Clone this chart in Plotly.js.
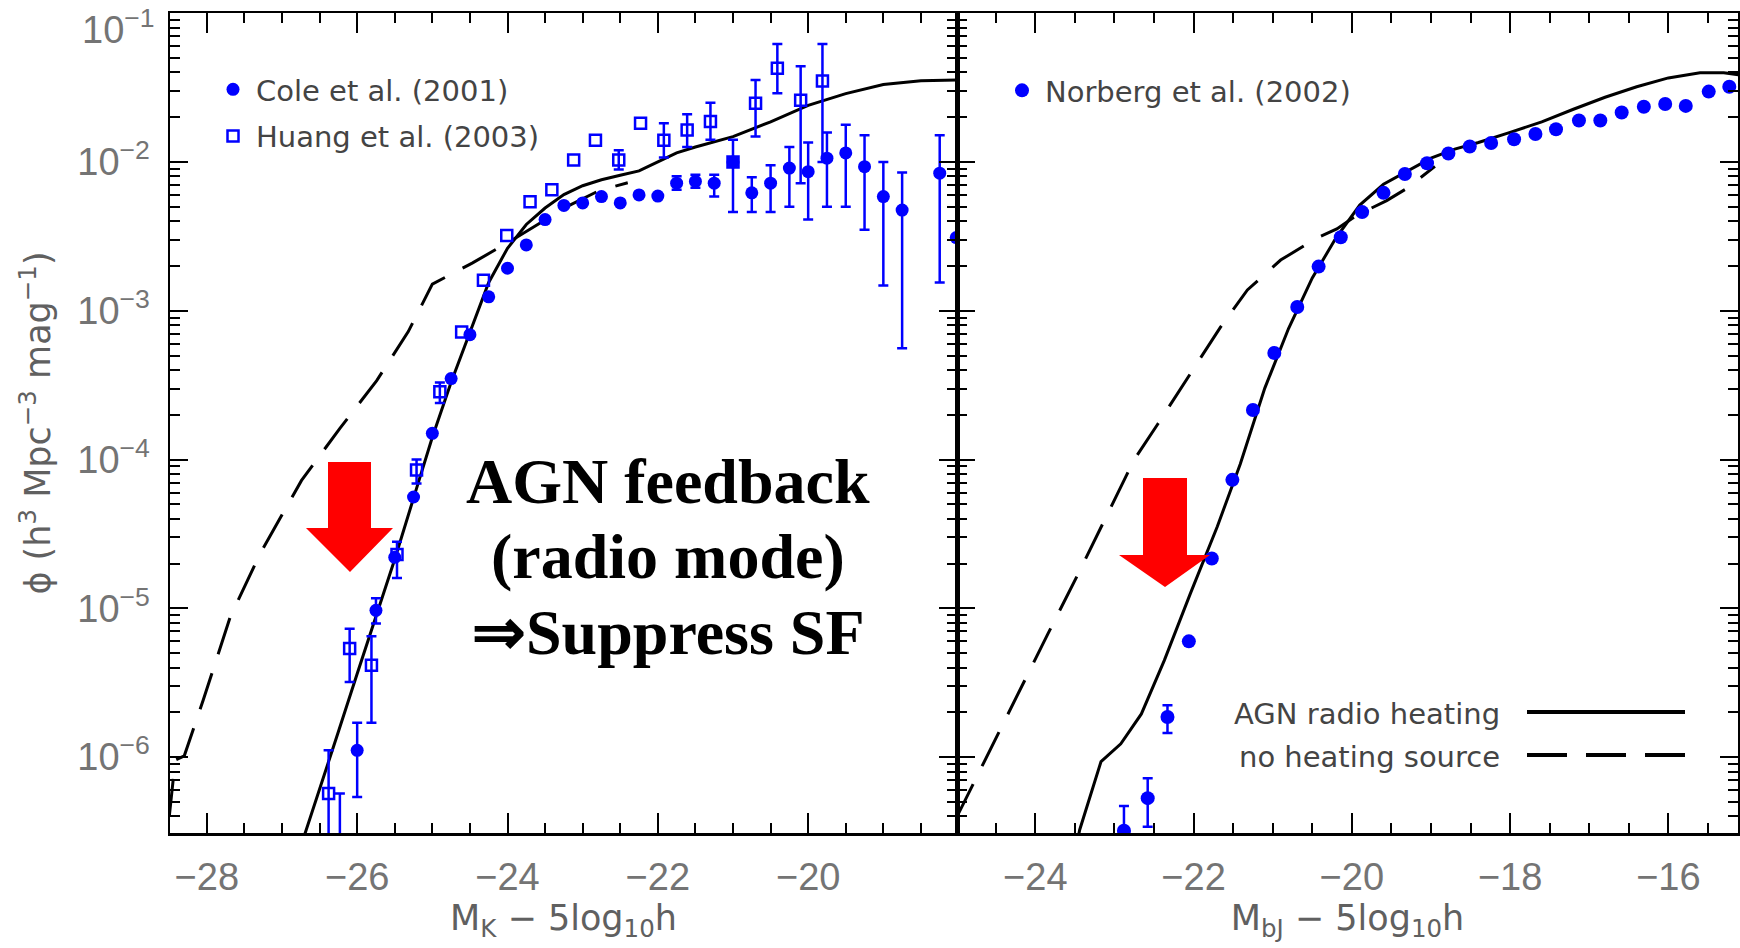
<!DOCTYPE html>
<html>
<head>
<meta charset="utf-8">
<script src="https://cdn.plot.ly/plotly-3.0.1.min.js"></script>
<style>
html,body{margin:0;padding:0;background:#fff;overflow:hidden;}
#chart{width:1740px;height:948px;}
</style>
</head>
<body>
<div id="chart"></div>
<script>
// ---------------- DATA ----------------
// Left panel: K-band luminosity function
const coleMag = [-26.0,-25.75,-25.5,-25.25,-25.0,-24.75,-24.5,-24.25,-24.0,-23.75,-23.5,-23.25,-23.0,-22.75,-22.5,-22.25,-22.0,-21.75,-21.5,-21.25,-21.0,-20.75,-20.5,-20.25,-20.0,-19.75,-19.5,-19.25,-19.0,-18.75,-18.25,-18.03];
const colePhi = [1.11e-6,9.7e-6,2.2e-5,5.6e-5,1.5e-4,3.5e-4,6.9e-4,1.24e-3,1.93e-3,2.77e-3,4.1e-3,5.1e-3,5.3e-3,5.85e-3,5.3e-3,6.0e-3,5.9e-3,7.2e-3,7.4e-3,7.2e-3,1.0e-2,6.2e-3,7.2e-3,9.1e-3,8.6e-3,1.06e-2,1.15e-2,9.3e-3,5.85e-3,4.75e-3,8.4e-3,3.1e-3];
const coleLo  = [5.4e-7,7.9e-6,null,null,null,null,null,null,null,null,null,null,null,null,null,null,null,6.5e-3,6.7e-3,5.85e-3,4.6e-3,4.6e-3,4.6e-3,5.0e-3,4.1e-3,5.0e-3,5.0e-3,3.5e-3,1.48e-3,5.6e-4,1.55e-3,null];
const coleHi  = [1.7e-6,1.17e-5,null,null,null,null,null,null,null,null,null,null,null,null,null,null,null,8.0e-3,8.2e-3,8.2e-3,1.41e-2,7.9e-3,9.5e-3,1.26e-2,1.35e-2,1.58e-2,1.78e-2,1.51e-2,1.0e-2,8.5e-3,1.51e-2,null];

const huangMag = [-26.38,-26.23,-26.1,-25.81,-25.47,-25.21,-24.9,-24.61,-24.32,-24.01,-23.70,-23.41,-23.12,-22.83,-22.52,-22.23,-21.92,-21.61,-21.30,-21.0,-20.70,-20.41,-20.10,-19.81];
const huangPhi = [5.7e-7,2.0e-7,5.37e-6,4.14e-6,2.3e-5,8.5e-5,2.85e-4,7.2e-4,1.6e-3,3.2e-3,5.4e-3,6.5e-3,1.03e-2,1.4e-2,1.03e-2,1.82e-2,1.4e-2,1.64e-2,1.87e-2,1.0e-2,2.48e-2,4.27e-2,2.6e-2,3.5e-2];
const huangLo  = [1.0e-7,1.0e-7,3.2e-6,1.7e-6,1.6e-5,6.9e-5,2.4e-4,null,null,null,null,null,null,null,8.9e-3,null,1.07e-2,1.26e-2,1.41e-2,null,1.48e-2,2.9e-2,7.2e-3,1.0e-2];
const huangHi  = [1.11e-6,5.7e-7,7.3e-6,6.5e-6,2.8e-5,1.0e-4,3.3e-4,null,null,null,null,null,null,null,1.2e-2,null,1.82e-2,2.09e-2,2.5e-2,null,3.55e-2,6.2e-2,4.4e-2,6.2e-2];

const kHeatMag = [-26.75,-26.5,-26.25,-26.0,-25.75,-25.5,-25.25,-25.0,-24.75,-24.5,-24.25,-24.0,-23.75,-23.5,-23.25,-23.0,-22.75,-22.5,-22.25,-22.0,-21.75,-21.5,-21.0,-20.5,-20.0,-19.5,-19.0,-18.5,-18.0];
const kHeatPhi = [2.51e-7,6.03e-7,1.48e-6,3.63e-6,8.71e-6,2.14e-5,5.5e-5,1.41e-4,3.31e-4,7.24e-4,1.55e-3,2.63e-3,3.8e-3,4.9e-3,6.03e-3,6.92e-3,7.59e-3,8.13e-3,8.71e-3,1.0e-2,1.15e-2,1.26e-2,1.48e-2,1.86e-2,2.4e-2,2.88e-2,3.31e-2,3.51e-2,3.55e-2];

const kNoHeatMag = [-28.5,-28.42,-28.3,-28.05,-27.69,-27.29,-26.74,-26.23,-25.74,-25.32,-25.0,-24.47,-23.92,-23.57,-23.21,-22.77,-22.4];
const kNoHeatPhi = [3.98e-7,9.55e-7,1.02e-6,2.4e-6,8.71e-6,2.34e-5,7.24e-5,1.62e-4,3.39e-4,7.24e-4,1.51e-3,2.09e-3,3.02e-3,3.89e-3,5.01e-3,6.46e-3,7.24e-3];

// Right panel: bJ-band luminosity function
const norbergMag = [-22.88,-22.58,-22.33,-22.06,-21.77,-21.51,-21.25,-20.98,-20.69,-20.42,-20.14,-19.87,-19.60,-19.33,-19.05,-18.78,-18.51,-18.24,-17.95,-17.68,-17.42,-17.13,-16.86,-16.59,-16.31,-16.04,-15.78,-15.49,-15.23];
const norbergPhi = [3.2e-7,5.3e-7,1.86e-6,6.0e-6,2.16e-5,7.3e-5,2.15e-4,5.2e-4,1.06e-3,1.98e-3,3.12e-3,4.6e-3,6.2e-3,8.3e-3,9.8e-3,1.14e-2,1.27e-2,1.34e-2,1.42e-2,1.54e-2,1.66e-2,1.9e-2,1.9e-2,2.15e-2,2.35e-2,2.45e-2,2.38e-2,2.97e-2,3.2e-2];
const norbergLo  = [1.5e-7,3.4e-7,1.45e-6,null,null,null,null,null,null,null,null,null,null,null,null,null,null,null,null,null,null,null,null,null,null,null,null,null,null];
const norbergHi  = [4.7e-7,7.2e-7,2.23e-6,null,null,null,null,null,null,null,null,null,null,null,null,null,null,null,null,null,null,null,null,null,null,null,null,null,null];

const bHeatMag = [-23.5,-23.44,-23.17,-22.92,-22.66,-22.37,-22.04,-21.70,-21.41,-21.1,-20.8,-20.5,-20.2,-19.9,-19.6,-19.3,-19.0,-18.7,-18.4,-18.0,-17.6,-17.2,-16.8,-16.4,-16.0,-15.6,-15.3,-15.1];
const bHeatPhi = [2.24e-7,3.24e-7,9.33e-7,1.23e-6,1.95e-6,4.47e-6,1.26e-5,3.55e-5,9.33e-5,3.02e-4,7.59e-4,1.66e-3,3.09e-3,5.13e-3,7.08e-3,8.71e-3,1.06e-2,1.22e-2,1.35e-2,1.58e-2,1.86e-2,2.26e-2,2.72e-2,3.2e-2,3.67e-2,3.98e-2,3.98e-2,3.85e-2];

const bNoHeatMag = [-25.0,-24.6,-24.22,-23.84,-23.46,-23.08,-22.75,-22.45,-22.04,-21.66,-21.32,-20.9,-20.44,-20.19,-19.94,-19.56,-19.31,-18.95];
const bNoHeatPhi = [3.89e-7,1.05e-6,2.69e-6,6.76e-6,1.7e-5,4.37e-5,1.0e-4,1.74e-4,3.8e-4,7.76e-4,1.38e-3,2.19e-3,3.09e-3,3.55e-3,4.37e-3,5.5e-3,6.61e-3,9.33e-3];

// Tick labels
const xTicksLeft  = [-28,-26,-24,-22,-20];
const xTicksRight = [-24,-22,-20,-18,-16];
const yTickVals   = [1e-6,1e-5,1e-4,1e-3,1e-2];
const yTickText   = ['10<sup>−6</sup>','10<sup>−5</sup>','10<sup>−4</sup>','10<sup>−3</sup>','10<sup>−2</sup>'];
const yTopLabel   = '10<sup>−1</sup>';

// ---------------- helpers ----------------
function errPlus(phi, hi){ return phi.map((v,i)=> hi[i]==null ? NaN : hi[i]-v); }
function errMinus(phi, lo){ return phi.map((v,i)=> lo[i]==null ? NaN : v-lo[i]); }

const BLUE = 'rgb(0,0,255)';
const errStyle = {type:'data', symmetric:false, color:BLUE, thickness:2.5, width:5};

const traces = [
  {x:kNoHeatMag, y:kNoHeatPhi, xaxis:'x', yaxis:'y', mode:'lines', showlegend:false,
   line:{color:'#000', width:3, dash:'38px,20px'}},
  {x:kHeatMag, y:kHeatPhi, xaxis:'x', yaxis:'y', mode:'lines', showlegend:false,
   line:{color:'#000', width:3}},
  {x:coleMag, y:colePhi, xaxis:'x', yaxis:'y', mode:'markers', name:'Cole et al. (2001)',
   legend:'legend', legendgroup:'cole',
   marker:{symbol:'circle', size:13, color:BLUE},
   error_y:Object.assign({array:errPlus(colePhi,coleHi), arrayminus:errMinus(colePhi,coleLo)}, errStyle)},
  {x:huangMag, y:huangPhi, xaxis:'x', yaxis:'y', mode:'markers', name:'Huang et al. (2003)',
   legend:'legend', legendgroup:'huang',
   marker:{symbol:'square-open', size:11, color:BLUE, line:{width:2.5, color:BLUE}},
   error_y:Object.assign({array:errPlus(huangPhi,huangHi), arrayminus:errMinus(huangPhi,huangLo)}, errStyle)},
  {x:bNoHeatMag, y:bNoHeatPhi, xaxis:'x2', yaxis:'y2', mode:'lines', showlegend:false,
   line:{color:'#000', width:3, dash:'38px,20px'}},
  {x:bHeatMag, y:bHeatPhi, xaxis:'x2', yaxis:'y2', mode:'lines', showlegend:false,
   line:{color:'#000', width:3}},
  {x:norbergMag, y:norbergPhi, xaxis:'x2', yaxis:'y2', mode:'markers', name:'Norberg et al. (2002)',
   legend:'legend2',
   marker:{symbol:'circle', size:14, color:BLUE},
   error_y:Object.assign({array:errPlus(norbergPhi,norbergHi), arrayminus:errMinus(norbergPhi,norbergLo)}, errStyle)}
];

// ---------------- layout ----------------
const W = 1740, H = 948;
const M = {l:170, r:2, t:13, b:115};
const PW = W - M.l - M.r, PH = H - M.t - M.b;
const px = X => (X - M.l) / PW;       // pixel -> paper (x)
const py = Y => (H - M.b - Y) / PH;   // pixel -> paper (y)
const split = px(957);

const tickFont = {family:'Liberation Sans, Arial, sans-serif', size:38, color:'#747474'};
const titleFont = {family:'DejaVu Sans, sans-serif', size:35, color:'#606060'};
const legFont = {family:'DejaVu Sans, sans-serif', size:29, color:'#444'};

const yMinor = [];
for (let d = -7; d <= -1; d++) for (let k = 2; k <= 9; k++) yMinor.push(k * Math.pow(10, d));

function xAxis(dom, range, ticks, title, anchor){
  return {domain:dom, range:range, anchor:anchor, tickmode:'array', tickvals:ticks,
    ticktext:ticks.map(v=>'−'+Math.abs(v)),
    ticks:'inside', ticklen:20, tickwidth:2, tickcolor:'#000',
    showline:true, linecolor:'#000', linewidth:2.5, mirror:'ticks',
    showgrid:false, zeroline:false, tickfont:tickFont, ticklabelstandoff:9,
    minor:{tickmode:'linear', tick0:-30, dtick:0.5, ticks:'inside', ticklen:10, tickwidth:2, tickcolor:'#000', showgrid:false},
    title:{text:title, font:titleFont, standoff:6}};
}
function yAxis(anchor, labels){
  return {type:'log', range:[-6.51,-0.999], anchor:anchor, domain:[0,1],
    tickmode:'array', tickvals:yTickVals, ticktext:yTickText, showticklabels:labels,
    ticks:'inside', ticklen:18, tickwidth:2, tickcolor:'#000',
    showline:true, linecolor:'#000', linewidth:2.5, mirror:'ticks',
    showgrid:false, zeroline:false, tickfont:tickFont, ticklabelstandoff:10,
    minor:{tickmode:'array', tickvals:yMinor, ticks:'inside', ticklen:10, tickwidth:2, tickcolor:'#000', showgrid:false}};
}

const yL = yAxis('x', true);
yL.title = {text:'ɸ (h<sup>3</sup> Mpc<sup>−3</sup> mag<sup>−1</sup>)', font:titleFont, standoff:16};
const yR = yAxis('x2', false);

function arrowPath(xs, ys){
  return 'M' + xs.map((x,i)=> px(x).toFixed(5)+','+py(ys[i]).toFixed(5)).join(' L') + ' Z';
}
const RED = '#ff0000';
const shapes = [
  {type:'path', xref:'paper', yref:'paper', fillcolor:RED, line:{width:0},
   path:arrowPath([328,371,371,393,350,306,328],[462,462,528,528,572,528,528])},
  {type:'path', xref:'paper', yref:'paper', fillcolor:RED, line:{width:0},
   path:arrowPath([1143,1187,1187,1210,1165,1119,1143],[478,478,555,555,587,555,555])},
  {type:'line', xref:'paper', yref:'paper', x0:px(1527), x1:px(1685), y0:py(712), y1:py(712),
   line:{color:'#000', width:4}},
  {type:'line', xref:'paper', yref:'paper', x0:px(1527), x1:px(1685), y0:py(755), y1:py(755),
   line:{color:'#000', width:4, dash:'40px,19px'}}
];

const serifBold = {family:'Liberation Serif, Times New Roman, serif', size:64, color:'#000', weight:700};
const annotations = [
  {text:'AGN feedback', x:px(668), y:py(481), xref:'paper', yref:'paper', showarrow:false, xanchor:'center', yanchor:'middle', font:serifBold},
  {text:'(radio mode)', x:px(668), y:py(557), xref:'paper', yref:'paper', showarrow:false, xanchor:'center', yanchor:'middle', font:serifBold},
  {text:'⇒Suppress SF', x:px(668), y:py(632), xref:'paper', yref:'paper', showarrow:false, xanchor:'center', yanchor:'middle', font:serifBold},
  {text:'AGN radio heating', x:px(1502), y:py(714), xref:'paper', yref:'paper', showarrow:false, xanchor:'right', yanchor:'middle', font:legFont},
  {text:'no heating source', x:px(1502), y:py(757), xref:'paper', yref:'paper', showarrow:false, xanchor:'right', yanchor:'middle', font:legFont},
  {text:yTopLabel, x:px(157), y:py(27), xref:'paper', yref:'paper', showarrow:false, xanchor:'right', yanchor:'middle', font:tickFont}
];

const layout = {
  width:W, height:H, margin:M, paper_bgcolor:'#fff', plot_bgcolor:'#fff',
  font:{family:'Liberation Sans, Arial, sans-serif', color:'#555'},
  xaxis:xAxis([0, split], [-28.49,-18.02], xTicksLeft, 'M<sub>K</sub> − 5log<sub>10</sub>h', 'y'),
  xaxis2:xAxis([split, 1], [-24.99,-15.12], xTicksRight, 'M<sub>bJ</sub> − 5log<sub>10</sub>h', 'y2'),
  yaxis:yL, yaxis2:yR,
  legend:{x:px(210), y:py(64), xanchor:'left', yanchor:'top', xref:'paper', yref:'paper',
    bgcolor:'rgba(0,0,0,0)', borderwidth:0, font:legFont, itemwidth:36, tracegroupgap:6, traceorder:'grouped'},
  legend2:{x:px(999), y:py(65), xanchor:'left', yanchor:'top', xref:'paper', yref:'paper',
    bgcolor:'rgba(0,0,0,0)', borderwidth:0, font:legFont, itemwidth:36},
  shapes:shapes, annotations:annotations, showlegend:true
};

Plotly.newPlot('chart', traces, layout, {staticPlot:true, displayModeBar:false});
</script>
</body>
</html>
